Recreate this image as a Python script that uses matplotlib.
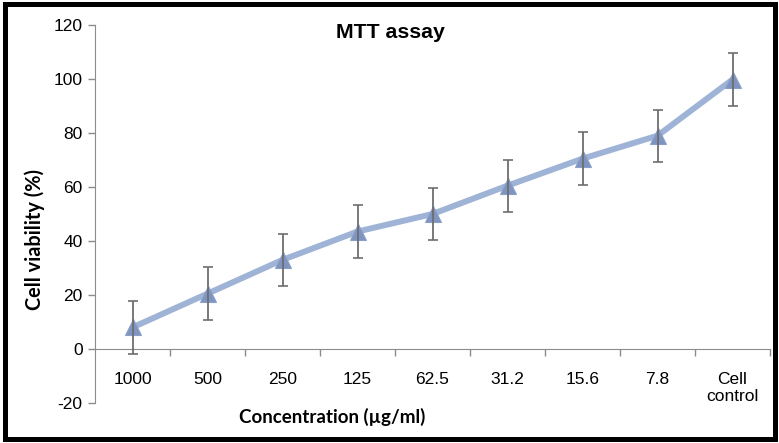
import numpy as np
import matplotlib
matplotlib.use('Agg')
import matplotlib.pyplot as plt
from matplotlib.patches import Rectangle

plt.rcParams['axes.unicode_minus'] = False
plt.rcParams['font.family'] = 'Liberation Sans'

# data
categories = ['1000', '500', '250', '125', '62.5', '31.2', '15.6', '7.8', 'Cell\ncontrol']
viability = [8, 20.5, 33, 43.5, 50, 60.5, 70.5, 79, 99.8]
errors = [9.8, 9.8, 9.6, 9.8, 9.6, 9.6, 9.7, 9.7, 9.8]
yticks = [-20, 0, 20, 40, 60, 80, 100, 120]

line_col = '#9fb3d6'
marker_col = '#7f95c1'
axis_col = '#8c8c8c'

fig = plt.figure(figsize=(7.79, 4.43), dpi=100)
ax = fig.add_axes([95 / 779, 1 - 403 / 443, 675 / 779, 378 / 443])

x = np.arange(len(categories))
ax.plot(x, viability, color=line_col, lw=4.3, solid_capstyle='butt', zorder=2)
ax.plot(x, viability, ls='none', marker='^', ms=12, color=marker_col,
        markeredgecolor='#8aa0c8', markeredgewidth=0.8, zorder=3)
eb = ax.errorbar(x, viability, yerr=errors, fmt='none', ecolor='#6e6e6e',
                 elinewidth=1.3, capsize=3.6, capthick=1.2, zorder=4)
for cap in eb[1]:
    cap.set_color('black')

ax.set_xlim(-0.5, len(categories) - 0.5)
ax.set_ylim(-20, 120)
ax.set_yticks(yticks)
ax.set_yticklabels([str(v) for v in yticks])

# category boundaries as major ticks, labels at centres as minor ticks
ax.set_xticks(np.arange(0.5, len(categories), 1))
ax.set_xticklabels([])
ax.set_xticks(x, minor=True)
ax.set_xticklabels(categories, minor=True, linespacing=1.15)
ax.tick_params(axis='x', which='major', direction='out', length=5, color=axis_col, width=1)
ax.tick_params(axis='x', which='minor', length=0, pad=16.5, labelsize=12.5)
ax.tick_params(axis='y', direction='out', length=5, color=axis_col, width=1, pad=4,
               labelsize=12.5)

ax.spines['top'].set_visible(False)
ax.spines['right'].set_visible(False)
ax.spines['left'].set_color(axis_col)
ax.spines['bottom'].set_color(axis_col)
ax.spines['bottom'].set_position(('data', 0))

fig.text(390 / 779, 1 - 33 / 443, 'MTT assay', ha='center', va='center',
         fontsize=15.3, fontweight='bold')
fig.text(35 / 779, 1 - 240 / 443, 'Cell viability (%)', ha='center', va='center',
         rotation=90, fontsize=14.3, fontweight='bold', family='Lato')
fig.text(332 / 779, 1 - 417 / 443, 'Concentration (µg/ml)', ha='center', va='center',
         fontsize=13.5, fontweight='bold', family='Lato')

# outer frame
fig.patches.append(Rectangle((5 / 779, 4.5 / 443), 769.5 / 779, 435 / 443,
                             transform=fig.transFigure, fill=False,
                             edgecolor='black', linewidth=3.6))

fig.savefig('out.png', dpi=100)
